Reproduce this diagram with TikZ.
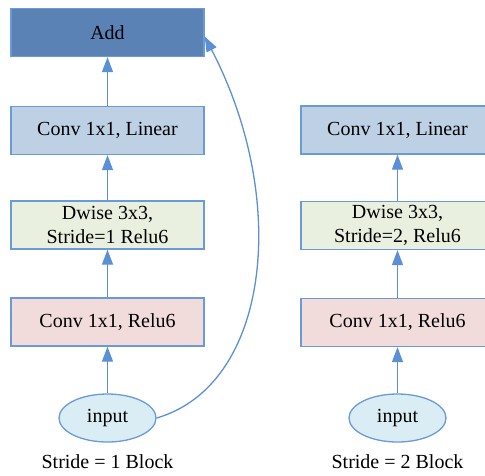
\documentclass[tikz,border=0pt]{standalone}
\usepackage{fontspec}
\setmainfont{Liberation Serif}
\usetikzlibrary{shapes.geometric,arrows.meta}
\definecolor{edgec}{HTML}{6A9AD8}
\definecolor{linec}{HTML}{5B8FD6}
\definecolor{addf}{HTML}{5A82B5}
\definecolor{linf}{HTML}{BDD0E4}
\definecolor{dwf}{HTML}{EAF0DF}
\definecolor{reluf}{HTML}{F2DCDB}
\definecolor{inf}{HTML}{DAEDF4}
\begin{document}
\begin{tikzpicture}[x=1pt,y=-1pt,
  blk/.style={draw=edgec,line width=1.3pt,minimum width=193pt,minimum height=48pt,inner sep=0pt,align=center,font=\fontsize{20}{24}\selectfont},
  inp/.style={draw=edgec,line width=1.3pt,fill=inf,ellipse,minimum width=97pt,minimum height=48pt,inner sep=0pt,font=\fontsize{20}{24}\selectfont},
  lbl/.style={font=\fontsize{20}{24}\selectfont},
  arr/.style={draw=linec,line width=1.3pt,-{Triangle[length=15pt,width=11pt]}}]
\useasboundingbox (0,0) rectangle (485,475);
\clip (0,0) rectangle (485,475);
% left column
\node[blk,fill=addf] (add) at (107.5,32.5) {Add};
\node[blk,fill=linf] (lin1) at (107.5,130.5) {Conv 1x1, Linear};
\node[blk,fill=dwf] (dw1) at (107.5,225) {Dwise 3x3,\\Stride=1 Relu6};
\node[blk,fill=reluf] (relu1) at (107.5,322) {Conv 1x1, Relu6};
\node[inp] (in1) at (107.5,418) {input};
\node[lbl] (cap1) at (107.5,462) {Stride = 1 Block};
% right column
\node[blk,fill=linf] (lin2) at (397.5,130) {Conv 1x1, Linear};
\node[blk,fill=dwf] (dw2) at (397.5,225.5) {Dwise 3x3,\\Stride=2, Relu6};
\node[blk,fill=reluf] (relu2) at (397.5,322.5) {Conv 1x1, Relu6};
\node[inp] (in2) at (397.5,418) {input};
\node[lbl] (cap2) at (397.5,462) {Stride = 2 Block};
% connectors
\draw[arr] (lin1) -- (add);
\draw[arr] (dw1) -- (lin1);
\draw[arr] (relu1) -- (dw1);
\draw[arr] (in1) -- (relu1);
\draw[arr] (dw2) -- (lin2);
\draw[arr] (relu2) -- (dw2);
\draw[arr] (in2) -- (relu2);
\coordinate (addin) at ([yshift=-4pt]add.east);
\draw[arr] (in1.east) .. controls (270,385) and (290,200) .. (addin);
\end{tikzpicture}
\end{document}
